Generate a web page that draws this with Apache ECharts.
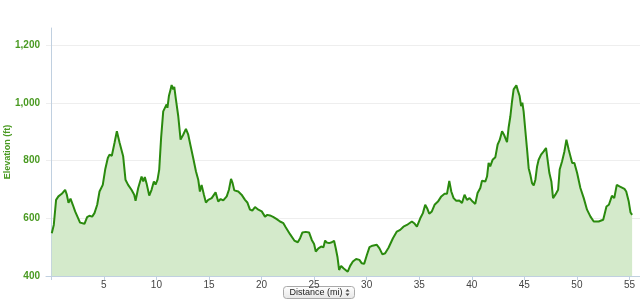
<!DOCTYPE html>
<html>
<head>
<meta charset="utf-8">
<script src="https://cdn.jsdelivr.net/npm/echarts@6/dist/echarts.min.js"></script>
<style>html,body{margin:0;padding:0;background:#fff}#c{width:640px;height:304px}</style>
</head>
<body>
<div id="c"></div>
<script>
const distance = [0.05,0.24,0.46,0.68,1.0,1.32,1.48,1.64,1.83,2.05,2.27,2.46,2.74,3.16,3.41,3.63,3.89,4.11,4.37,4.59,4.9,5.13,5.38,5.54,5.76,6.02,6.24,6.5,6.84,7.06,7.31,7.63,7.89,8.02,8.27,8.59,8.75,8.9,9.06,9.32,9.54,9.76,9.92,10.11,10.27,10.45,10.65,10.81,10.97,11.05,11.19,11.35,11.45,11.6,11.7,11.86,12.08,12.3,12.55,12.81,13.03,13.26,13.5,13.76,13.98,14.14,14.3,14.52,14.71,14.93,15.26,15.45,15.63,15.88,16.11,16.36,16.69,16.9,17.1,17.25,17.41,17.79,18.1,18.43,18.65,18.9,19.12,19.38,19.7,20.02,20.33,20.55,20.8,21.1,21.45,21.76,22.08,22.3,22.71,23.12,23.45,23.67,23.89,24.21,24.52,24.78,25.0,25.16,25.41,25.67,25.89,26.05,26.21,26.43,26.69,26.9,27.06,27.22,27.38,27.57,27.79,27.95,28.2,28.43,28.69,29.0,29.31,29.54,29.76,30.02,30.27,30.55,30.97,31.22,31.5,31.76,32.08,32.5,32.87,33.19,33.5,33.83,34.3,34.52,34.78,35.1,35.35,35.57,35.75,35.95,36.2,36.46,36.78,37.1,37.41,37.64,37.86,38.05,38.27,38.52,38.81,39.07,39.31,39.54,39.79,40.08,40.33,40.55,40.81,40.97,41.29,41.45,41.6,41.75,41.98,42.24,42.46,42.65,42.88,43.1,43.35,43.5,43.67,43.83,43.98,44.11,44.24,44.4,44.55,44.69,44.81,44.93,45.1,45.26,45.41,45.57,45.73,45.89,46.05,46.21,46.36,46.59,46.84,47.06,47.21,47.38,47.57,47.73,47.95,48.21,48.36,48.59,48.81,49.0,49.22,49.55,49.76,50.02,50.33,50.65,50.96,51.29,51.6,52.07,52.5,52.81,53.04,53.33,53.55,53.79,54.05,54.52,54.69,54.93,55.1,55.25];
const elevation = [548,577,664,676,685,699,682,654,668,647,624,627,585,581,604,609,606,618,647,693,716,769,809,821,817,862,902,862,815,734,716,699,682,661,705,745,728,743,722,679,699,728,717,734,769,880,971,983,995,983,1024,1047,1062,1047,1056,1012,954,873,890,910,890,850,809,763,734,693,716,682,655,664,670,664,690,658,667,662,676,699,737,722,697,693,682,664,655,630,627,639,630,624,606,612,610,605,597,589,583,569,545,523,517,531,551,553,551,525,511,485,496,502,500,523,516,514,517,522,496,467,421,435,427,427,415,435,450,459,456,444,442,473,500,505,508,496,475,479,498,531,554,560,571,577,589,583,571,600,618,647,635,616,624,647,658,676,685,685,730,693,670,661,662,653,682,664,670,658,650,688,705,730,728,745,792,780,803,812,856,871,902,887,864,914,954,1006,1047,1041,1061,1041,1024,989,1001,971,902,838,774,751,722,714,734,780,803,821,832,844,838,757,728,670,682,699,769,798,832,873,838,792,792,757,705,670,630,606,589,589,595,641,647,678,670,716,711,702,693,658,620,612];
const xTicks = [0,5,10,15,20,25,30,35,40,45,50,55];
const xLabels = [5,10,15,20,25,30,35,40,45,50,55];
const yTicks = [400,600,800,1000,1200];

const chart = echarts.init(document.getElementById('c'), null, {renderer:'canvas'});
const green = '#4a9a22';
chart.setOption({
  animation: false,
  grid: {left: 46, right: 0, top: 28, bottom: 28, containLabel: false, outerBoundsMode: 'none'},
  xAxis: {
    type: 'value', min: -0.5, max: 56,
    axisLine: {show: true, lineStyle: {color: '#c0d0e0', width: 1}},
    axisTick: {show: true, length: 4, customValues: xTicks, lineStyle: {color: '#c0d0e0'}},
    axisLabel: {customValues: xLabels, color: '#444', fontSize: 10, margin: 4, fontFamily: 'Liberation Sans'},
    splitLine: {show: false}
  },
  yAxis: {
    type: 'value', min: 400, max: 1260, interval: 200,
    name: 'Elevation (ft)', nameLocation: 'middle', nameGap: 34, nameRotate: 90, nameMoveOverlap: false,
    nameTextStyle: {color: green, fontWeight: 'bold', fontSize: 9, fontFamily: 'Liberation Sans'},
    axisLine: {show: true, lineStyle: {color: '#c0d0e0', width: 1}},
    axisTick: {show: false},
    axisLabel: {
      customValues: yTicks,
      color: green, fontWeight: 'bold', fontSize: 10, margin: 6, fontFamily: 'Liberation Sans',
      formatter: v => v.toLocaleString('en-US')
    },
    splitLine: {show: true, showMinLine: false, showMaxLine: false, lineStyle: {color: '#eeeeee', width: 1}}
  },
  series: [{
    type: 'line',
    data: distance.map((d, i) => [d, elevation[i]]),
    showSymbol: false,
    smooth: false,
    lineStyle: {color: '#2a8a0e', width: 2},
    areaStyle: {color: '#d4eacb', opacity: 1, origin: 'start'}
  }],
  graphic: [{
    type: 'group', left: 283, top: 286,
    children: [
      {type: 'rect', shape: {x: 0, y: 0, width: 71, height: 12, r: 3},
       style: {fill: new echarts.graphic.LinearGradient(0,0,0,1,[{offset:0,color:'#ffffff'},{offset:1,color:'#e6e6e6'}]), stroke: '#a9a9a9', lineWidth: 1}},
      {type: 'text', x: 6, y: 6.5, style: {text: 'Distance (mi)', fill: '#222', font: '9px "Liberation Sans"', verticalAlign: 'middle'}},
      {type: 'polygon', shape: {points: [[62,5],[66,5],[64,2.5]]}, style: {fill: '#444'}},
      {type: 'polygon', shape: {points: [[62,7],[66,7],[64,9.5]]}, style: {fill: '#444'}}
    ]
  }]
});
</script>
</body>
</html>
